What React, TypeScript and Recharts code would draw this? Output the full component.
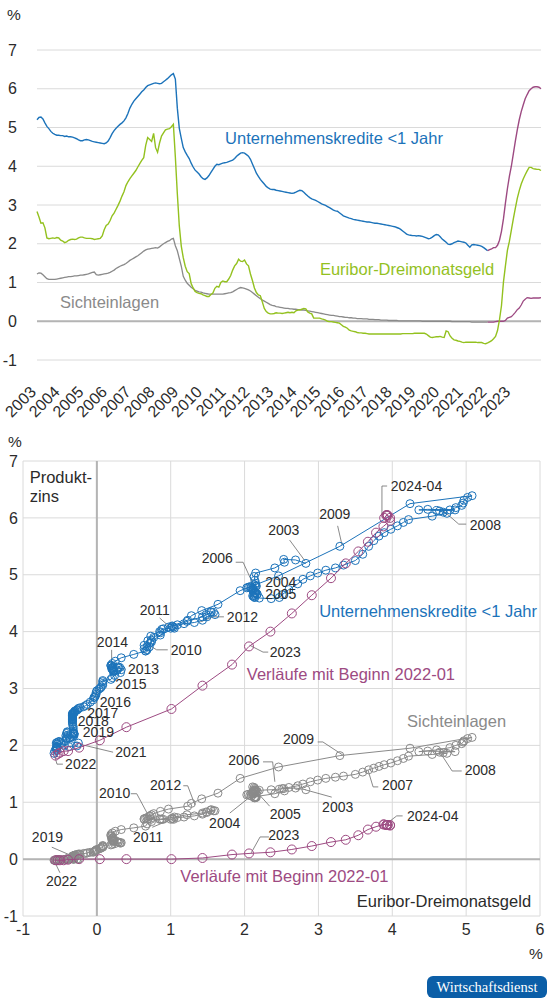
import React from 'react';
import {
  LineChart, Line, XAxis, YAxis, CartesianGrid, ReferenceLine, ReferenceDot,
  ScatterChart, Scatter,
} from 'recharts';

// monthly values, 2003-01 … 2024-04
const yearTicks = [2003, 2004, 2005, 2006, 2007, 2008, 2009, 2010, 2011, 2012, 2013,
  2014, 2015, 2016, 2017, 2018, 2019, 2020, 2021, 2022, 2023];

const euribor = [
  2.83, 2.69, 2.53, 2.54, 2.41, 2.15, 2.13, 2.14, 2.15, 2.14, 2.16, 2.15,
  2.09, 2.07, 2.03, 2.05, 2.09, 2.11, 2.12, 2.11, 2.12, 2.15, 2.17, 2.17,
  2.15, 2.14, 2.14, 2.14, 2.13, 2.11, 2.12, 2.13, 2.14, 2.20, 2.36, 2.47,
  2.51, 2.60, 2.72, 2.79, 2.89, 2.99, 3.10, 3.23, 3.34, 3.50, 3.60, 3.68,
  3.75, 3.82, 3.89, 3.98, 4.07, 4.15, 4.22, 4.54, 4.74, 4.69, 4.64, 4.85,
  4.48, 4.36, 4.60, 4.78, 4.86, 4.94, 4.96, 4.97, 5.02, 5.08, 4.24, 3.29,
  2.46, 1.94, 1.64, 1.42, 1.28, 1.23, 0.97, 0.86, 0.77, 0.74, 0.72, 0.71,
  0.68, 0.66, 0.64, 0.64, 0.69, 0.73, 0.85, 0.90, 0.88, 1.00, 1.04, 1.02,
  1.02, 1.09, 1.18, 1.32, 1.43, 1.49, 1.60, 1.55, 1.54, 1.58, 1.48, 1.43,
  1.22, 1.05, 0.86, 0.74, 0.68, 0.66, 0.50, 0.33, 0.25, 0.21, 0.19, 0.19,
  0.20, 0.22, 0.21, 0.21, 0.20, 0.21, 0.22, 0.23, 0.22, 0.23, 0.22, 0.27,
  0.29, 0.29, 0.31, 0.33, 0.32, 0.24, 0.21, 0.19, 0.08, 0.08, 0.08, 0.08,
  0.06, 0.05, 0.03, 0.00, -0.01, -0.01, -0.02, -0.03, -0.04, -0.05, -0.09, -0.13,
  -0.15, -0.18, -0.23, -0.25, -0.26, -0.27, -0.29, -0.30, -0.30, -0.31, -0.31, -0.32,
  -0.33, -0.33, -0.33, -0.33, -0.33, -0.33, -0.33, -0.33, -0.33, -0.33, -0.33, -0.33,
  -0.33, -0.33, -0.33, -0.33, -0.33, -0.32, -0.32, -0.32, -0.32, -0.32, -0.32, -0.31,
  -0.31, -0.31, -0.31, -0.31, -0.31, -0.33, -0.37, -0.41, -0.42, -0.41, -0.40, -0.40,
  -0.39, -0.41, -0.42, -0.25, -0.27, -0.38, -0.44, -0.48, -0.49, -0.51, -0.52, -0.54,
  -0.55, -0.54, -0.54, -0.54, -0.54, -0.54, -0.54, -0.55, -0.55, -0.55, -0.57, -0.58,
  -0.56, -0.53, -0.50, -0.45, -0.39, -0.24, 0.04, 0.40, 1.01, 1.43, 1.83, 2.06,
  2.35, 2.64, 2.91, 3.17, 3.37, 3.54, 3.67, 3.78, 3.88, 3.97, 3.97, 3.94,
  3.93, 3.92, 3.92, 3.89,
];

const kredite = [
  5.20, 5.26, 5.27, 5.22, 5.12, 5.03, 4.97, 4.90, 4.85, 4.82, 4.80, 4.80,
  4.79, 4.79, 4.77, 4.78, 4.76, 4.76, 4.75, 4.73, 4.71, 4.68, 4.66, 4.66,
  4.68, 4.69, 4.68, 4.66, 4.64, 4.63, 4.62, 4.61, 4.60, 4.59, 4.58, 4.60,
  4.65, 4.74, 4.84, 4.92, 4.98, 5.03, 5.08, 5.12, 5.17, 5.25, 5.36, 5.50,
  5.60, 5.68, 5.74, 5.80, 5.86, 5.92, 5.97, 6.03, 6.08, 6.10, 6.12, 6.14,
  6.15, 6.14, 6.13, 6.14, 6.18, 6.22, 6.26, 6.31, 6.36, 6.39, 6.25, 5.50,
  4.98, 4.72, 4.48, 4.37, 4.28, 4.20, 4.08, 3.98, 3.90, 3.85, 3.80, 3.73,
  3.68, 3.66, 3.70, 3.76, 3.84, 3.92, 4.00, 4.05, 4.04, 4.06, 4.08, 4.09,
  4.10, 4.12, 4.14, 4.16, 4.20, 4.26, 4.30, 4.34, 4.35, 4.34, 4.30, 4.26,
  4.18, 4.06, 3.94, 3.82, 3.74, 3.66, 3.60, 3.54, 3.48, 3.44, 3.41, 3.40,
  3.40, 3.38, 3.37, 3.36, 3.35, 3.34, 3.33, 3.32, 3.31, 3.30, 3.31, 3.33,
  3.36, 3.38, 3.37, 3.33, 3.28, 3.23, 3.19, 3.16, 3.14, 3.12, 3.09, 3.06,
  3.03, 3.01, 2.99, 2.96, 2.93, 2.90, 2.87, 2.85, 2.84, 2.80, 2.76, 2.72,
  2.70, 2.68, 2.66, 2.65, 2.63, 2.62, 2.61, 2.60, 2.59, 2.58, 2.57, 2.56,
  2.56, 2.55, 2.54, 2.53, 2.53, 2.52, 2.51, 2.50, 2.49, 2.48, 2.47, 2.46,
  2.45, 2.44, 2.42, 2.40, 2.37, 2.33, 2.29, 2.25, 2.23, 2.22, 2.21, 2.21,
  2.20, 2.21, 2.20, 2.19, 2.17, 2.15, 2.13, 2.14, 2.17, 2.21, 2.24, 2.23,
  2.18, 2.12, 2.08, 2.04, 1.99, 1.98, 2.00, 2.03, 2.05, 2.07, 2.06, 2.05,
  2.04, 2.02, 1.96, 1.91, 1.97, 1.98, 1.97, 1.96, 1.95, 1.93, 1.90, 1.86,
  1.82, 1.85, 1.87, 1.90, 1.90, 1.96, 2.09, 2.32, 2.64, 3.05, 3.42, 3.74,
  4.00, 4.32, 4.64, 4.94, 5.20, 5.41, 5.58, 5.74, 5.85, 5.95, 6.00, 6.04,
  6.05, 6.05, 6.04, 6.00,
];

const sicht = [
  1.22, 1.25, 1.24, 1.20, 1.15, 1.10, 1.08, 1.08, 1.08, 1.08, 1.09, 1.10,
  1.11, 1.12, 1.13, 1.14, 1.15, 1.15, 1.16, 1.17, 1.17, 1.18, 1.19, 1.19,
  1.20, 1.21, 1.22, 1.24, 1.26, 1.27, 1.20, 1.19, 1.20, 1.21, 1.22, 1.23,
  1.24, 1.26, 1.29, 1.32, 1.36, 1.39, 1.42, 1.44, 1.46, 1.49, 1.53, 1.57,
  1.60, 1.63, 1.66, 1.69, 1.73, 1.77, 1.81, 1.84, 1.86, 1.87, 1.88, 1.89,
  1.90, 1.89, 1.92, 1.96, 2.00, 2.03, 2.06, 2.08, 2.12, 2.14, 1.95, 1.82,
  1.62, 1.42, 1.16, 1.06, 0.98, 0.93, 0.88, 0.84, 0.80, 0.78, 0.76, 0.75,
  0.73, 0.72, 0.71, 0.70, 0.70, 0.70, 0.70, 0.70, 0.70, 0.70, 0.70, 0.71,
  0.72, 0.73, 0.74, 0.76, 0.79, 0.82, 0.85, 0.87, 0.86, 0.85, 0.83, 0.81,
  0.78, 0.74, 0.70, 0.66, 0.62, 0.58, 0.55, 0.52, 0.49, 0.46, 0.43, 0.41,
  0.40, 0.38, 0.37, 0.36, 0.35, 0.34, 0.33, 0.33, 0.32, 0.32, 0.31, 0.31,
  0.30, 0.30, 0.29, 0.29, 0.28, 0.27, 0.26, 0.25, 0.24, 0.23, 0.22, 0.21,
  0.20, 0.19, 0.18, 0.17, 0.16, 0.15, 0.15, 0.14, 0.13, 0.12, 0.12, 0.11,
  0.10, 0.10, 0.09, 0.09, 0.08, 0.08, 0.07, 0.07, 0.07, 0.06, 0.06, 0.06,
  0.05, 0.05, 0.05, 0.04, 0.04, 0.04, 0.03, 0.03, 0.03, 0.03, 0.02, 0.02,
  0.02, 0.02, 0.02, 0.01, 0.01, 0.01, 0.01, 0.01, 0.01, 0.01, 0.01, 0.01,
  0.01, 0.01, 0.01, 0.00, 0.00, 0.00, 0.00, 0.00, 0.00, 0.00, 0.00, 0.00,
  0.00, 0.00, 0.00, 0.00, 0.00, 0.00, -0.01, -0.01, -0.01, -0.01, -0.01, -0.01,
  -0.01, -0.01, -0.01, -0.01, -0.02, -0.02, -0.02, -0.02, -0.02, -0.02, -0.02, -0.02,
  -0.02, -0.02, -0.02, -0.02, -0.01, 0.00, 0.00, 0.00, 0.00, 0.02, 0.08, 0.10,
  0.12, 0.17, 0.23, 0.30, 0.34, 0.42, 0.52, 0.57, 0.61, 0.60, 0.59, 0.60,
  0.60, 0.60, 0.60, 0.61,
];

const PURPLE_FROM = 228; // 2022-01

const BLUE = '#1c73ba';
const GREEN = '#93c11f';
const GRAY = '#8a8a8a';
const PURPLE = '#9d4a82';
const GRID = '#dadada';
const ZERO = '#b4b4b4';
const TEXT = '#2b2b2b';
const LEADER = '#6b6b6b';
const FONT = '"Liberation Sans", Arial, sans-serif';

const topRows = euribor.map((e, i) => ({
  t: 2003 + i / 12,
  euribor: e,
  kredite: i <= PURPLE_FROM ? kredite[i] : null,
  kreditePurple: i >= PURPLE_FROM ? kredite[i] : null,
  sicht: i <= PURPLE_FROM ? sicht[i] : null,
  sichtPurple: i >= PURPLE_FROM ? sicht[i] : null,
}));

const pairs = (ys: number[], from: number, to: number) =>
  euribor.slice(from, to).map((x, k) => ({ x, y: ys[from + k] }));

const blueHist = pairs(kredite, 0, PURPLE_FROM);
const blueNew = pairs(kredite, PURPLE_FROM, euribor.length);
const grayHist = pairs(sicht, 0, PURPLE_FROM);
const grayNew = pairs(sicht, PURPLE_FROM, euribor.length);

type Note = { text: string; x: number; y: number; path?: [number, number][] };

// year labels in the scatter: text position and leader line, in data units
const scatterNotes: Note[] = [
  { text: '2003', x: 2.32, y: 5.79, path: [[2.61, 5.61], [2.82, 5.24]] },
  { text: '2009', x: 3.01, y: 6.07, path: [[3.26, 5.86], [3.32, 5.52]] },
  { text: '2024-04', x: 3.98, y: 6.56, path: [[3.93, 6.56], [3.86, 6.56], [3.86, 6.05]] },
  { text: '2008', x: 5.05, y: 5.87, path: [[5.0, 5.89], [4.9, 5.89], [4.67, 6.15]] },
  { text: '2006', x: 1.42, y: 5.29, path: [[1.88, 5.22], [1.98, 5.22], [2.11, 4.85]] },
  { text: '2004', x: 2.28, y: 4.87 },
  { text: '2005', x: 2.28, y: 4.66 },
  { text: '2012', x: 1.76, y: 4.26, path: [[1.72, 4.26], [1.57, 4.26], [1.4, 4.17]] },
  { text: '2011', x: 0.58, y: 4.38, path: [[0.85, 4.24], [0.99, 4.08]] },
  { text: '2010', x: 1.0, y: 3.68, path: [[0.96, 3.68], [0.81, 3.68], [0.72, 3.75]] },
  { text: '2014', x: 0.0, y: 3.82, path: [[0.2, 3.68], [0.2, 3.38]] },
  { text: '2013', x: 0.42, y: 3.34, path: [[0.39, 3.34], [0.27, 3.36]] },
  { text: '2015', x: 0.25, y: 3.08 },
  { text: '2016', x: 0.04, y: 2.76 },
  { text: '2017', x: -0.13, y: 2.57 },
  { text: '2018', x: -0.26, y: 2.43 },
  { text: '2019', x: -0.19, y: 2.24 },
  { text: '2021', x: 0.25, y: 1.88, path: [[0.22, 1.88], [-0.23, 2.02]] },
  { text: '2022', x: -0.43, y: 1.67, path: [[-0.46, 1.67], [-0.54, 1.67], [-0.57, 1.81]] },
  { text: '2023', x: 2.34, y: 3.64, path: [[2.32, 3.64], [2.25, 3.64], [2.07, 3.76]] },
  { text: '2009', x: 2.52, y: 2.11, path: [[2.99, 2.06], [3.06, 2.06], [3.33, 1.83]] },
  { text: '2006', x: 1.78, y: 1.74, path: [[2.25, 1.71], [2.38, 1.71], [2.41, 1.36]] },
  { text: '2012', x: 0.72, y: 1.3, path: [[1.17, 1.29], [1.23, 1.29], [1.33, 0.95]] },
  { text: '2010', x: 0.03, y: 1.16, path: [[0.46, 1.15], [0.54, 1.15], [0.68, 0.81]] },
  { text: '2011', x: 0.49, y: 0.39, path: [[0.75, 0.56], [0.99, 0.69]] },
  { text: '2004', x: 1.52, y: 0.64, path: [[1.8, 0.81], [2.07, 1.09]] },
  { text: '2005', x: 2.34, y: 0.79, path: [[2.34, 0.93], [2.18, 1.16]] },
  { text: '2003', x: 3.05, y: 0.92, path: [[3.18, 1.09], [2.82, 1.22]] },
  { text: '2007', x: 3.86, y: 1.3, path: [[3.81, 1.27], [3.74, 1.27], [3.67, 1.57]] },
  { text: '2008', x: 4.98, y: 1.57, path: [[4.94, 1.55], [4.81, 1.55], [4.65, 1.87]] },
  { text: '2019', x: -0.88, y: 0.39, path: [[-0.61, 0.21], [-0.36, 0.07]] },
  { text: '2022', x: -0.69, y: -0.38, path: [[-0.5, -0.24], [-0.57, -0.05]] },
  { text: '2023', x: 2.32, y: 0.42, path: [[2.33, 0.39], [2.21, 0.39], [2.09, 0.11]] },
  { text: '2024-04', x: 4.2, y: 0.76, path: [[4.14, 0.76], [4.06, 0.76], [3.9, 0.6]] },
];

const textShape = (text: string, color: string, size: number, anchor = 'start') =>
  (p: any) => (
    <text x={p.cx} y={p.cy} dy="0.35em" fill={color} fontSize={size} textAnchor={anchor}
      fontFamily={FONT}>
      {text}
    </text>
  );

const ring = (color: string, r: number) => (p: any) => (
  <circle cx={p.cx} cy={p.cy} r={r} fill="none" stroke={color} strokeWidth={1} />
);

const YearTick = ({ x, y, payload }: any) => (
  <text x={x} y={y + 33} transform={`rotate(-45 ${x} ${y + 33})`} textAnchor="end"
    fontSize={16} fill={TEXT} fontFamily={FONT}>
    {payload.value}
  </text>
);

const leaders = (notes: Note[]) =>
  notes.flatMap((n, i) => {
    if (!n.path) return [];
    return n.path.slice(1).map((pt, k) => (
      <ReferenceLine key={`l${i}-${k}`} segment={[{ x: n.path![k][0], y: n.path![k][1] }, { x: pt[0], y: pt[1] }]}
        stroke={LEADER} strokeWidth={0.8} />
    ));
  });

const TimeChart = () => (
  <LineChart width={551} height={430} data={topRows}
    margin={{ top: 50, right: 10, bottom: 0, left: 0 }}>
    <CartesianGrid vertical={false} stroke={GRID} />
    <XAxis dataKey="t" type="number" domain={[2003, 2024.25]} ticks={yearTicks}
      interval={0} height={70} axisLine={false} tickLine={false} tickSize={0} tickMargin={0}
      tick={<YearTick />} />
    <YAxis type="number" domain={[-1, 7]} ticks={[-1, 0, 1, 2, 3, 4, 5, 6, 7]} width={37}
      axisLine={false} tickLine={false} tickSize={0} tickMargin={20}
      tick={{ fontSize: 16, fill: TEXT }} />
    <ReferenceLine y={0} stroke={ZERO} strokeWidth={2} />
    <Line dataKey="sicht" stroke={GRAY} strokeWidth={1.3} dot={false} isAnimationActive={false} />
    <Line dataKey="sichtPurple" stroke={PURPLE} strokeWidth={1.3} dot={false} isAnimationActive={false} />
    <Line dataKey="euribor" stroke={GREEN} strokeWidth={1.4} dot={false} isAnimationActive={false} />
    <Line dataKey="kredite" stroke={BLUE} strokeWidth={1.4} dot={false} isAnimationActive={false} />
    <Line dataKey="kreditePurple" stroke={PURPLE} strokeWidth={1.4} dot={false} isAnimationActive={false} />
    <ReferenceDot x={2010.93} y={4.72} r={0} shape={textShape('Unternehmenskredite <1 Jahr', BLUE, 16.5)} />
    <ReferenceDot x={2014.93} y={1.34} r={0} shape={textShape('Euribor-Dreimonatsgeld', GREEN, 16.5)} />
    <ReferenceDot x={2003.97} y={0.49} r={0} shape={textShape('Sichteinlagen', GRAY, 16.5)} />
  </LineChart>
);

const PathChart = () => (
  <ScatterChart width={551} height={540} margin={{ top: 41, right: 11, bottom: 0, left: 0 }}>
    <CartesianGrid stroke={GRID} />
    <XAxis dataKey="x" type="number" domain={[-1, 6]} ticks={[-1, 0, 1, 2, 3, 4, 5, 6]}
      interval={0} height={44} axisLine={false} tickLine={false} tickSize={0} tickMargin={8}
      tick={{ fontSize: 16, fill: TEXT }} />
    <YAxis dataKey="y" type="number" domain={[-1, 7]} ticks={[-1, 0, 1, 2, 3, 4, 5, 6, 7]}
      width={23} axisLine={false} tickLine={false} tickSize={0} tickMargin={5}
      tick={{ fontSize: 16, fill: TEXT }} />
    <ReferenceLine x={0} stroke={ZERO} strokeWidth={2} />
    <ReferenceLine y={0} stroke={ZERO} strokeWidth={2} />
    {leaders(scatterNotes)}
    <Scatter data={grayHist} line={{ stroke: GRAY, strokeWidth: 1 }} lineType="joint"
      shape={ring(GRAY, 4)} isAnimationActive={false} />
    <Scatter data={blueHist} line={{ stroke: BLUE, strokeWidth: 1 }} lineType="joint"
      shape={ring(BLUE, 4)} isAnimationActive={false} />
    <Scatter data={grayNew} line={{ stroke: PURPLE, strokeWidth: 1 }} lineType="joint"
      shape={ring(PURPLE, 4.5)} isAnimationActive={false} />
    <Scatter data={blueNew} line={{ stroke: PURPLE, strokeWidth: 1 }} lineType="joint"
      shape={ring(PURPLE, 4.5)} isAnimationActive={false} />
    {scatterNotes.map((n, i) => (
      <ReferenceDot key={`n${i}`} x={n.x} y={n.y} r={0} shape={textShape(n.text, TEXT, 14)} />
    ))}
    <ReferenceDot x={-0.91} y={6.72} r={0} shape={textShape('Produkt-', TEXT, 16.5)} />
    <ReferenceDot x={-0.91} y={6.38} r={0} shape={textShape('zins', TEXT, 16.5)} />
    <ReferenceDot x={3.01} y={4.36} r={0} shape={textShape('Unternehmenskredite <1 Jahr', BLUE, 16.5)} />
    <ReferenceDot x={2.03} y={3.25} r={0} shape={textShape('Verläufe mit Beginn 2022-01', PURPLE, 16.5)} />
    <ReferenceDot x={4.2} y={2.43} r={0} shape={textShape('Sichteinlagen', GRAY, 16.5)} />
    <ReferenceDot x={1.13} y={-0.3} r={0} shape={textShape('Verläufe mit Beginn 2022-01', PURPLE, 16.5)} />
    <ReferenceDot x={3.52} y={-0.74} r={0} shape={textShape('Euribor-Dreimonatsgeld', TEXT, 16.5)} />
  </ScatterChart>
);

const pct = (left: number, top: number) => (
  <div style={{ position: 'absolute', left, top, fontSize: 15.5, lineHeight: '16px', color: TEXT }}>%</div>
);

export default function App() {
  return (
    <div style={{ position: 'fixed', left: 0, top: 0, width: 551, height: 1000, background: '#fff',
      fontFamily: FONT, overflow: 'hidden' }}>
      {pct(7, 7)}
      <div style={{ position: 'absolute', left: 0, top: 0 }}><TimeChart /></div>
      {pct(8, 434)}
      <div style={{ position: 'absolute', left: 0, top: 420 }}><PathChart /></div>
      {pct(529, 946)}
      <div style={{ position: 'absolute', left: 427, top: 976, width: 120, height: 22,
        background: '#0b5ea7', borderRadius: 6, color: '#fff', textAlign: 'center',
        fontFamily: '"Liberation Serif", "DejaVu Serif", serif', fontSize: 14.5, lineHeight: '22px' }}>
        Wirtschaftsdienst
      </div>
    </div>
  );
}
